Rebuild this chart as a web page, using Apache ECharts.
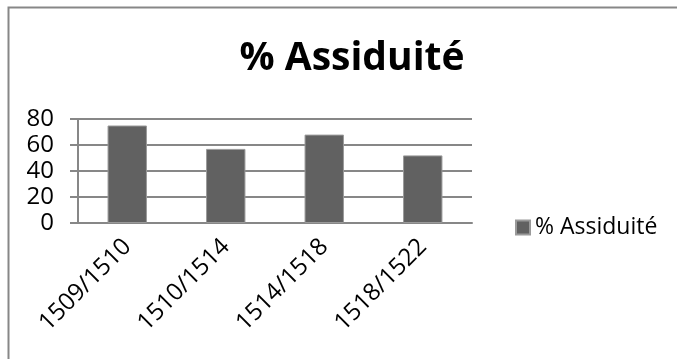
<!DOCTYPE html>
<html>
<head>
<meta charset="utf-8">
<script src="https://cdn.jsdelivr.net/npm/echarts@6/dist/echarts.min.js"></script>
<style>
  html, body { margin: 0; padding: 0; background: #fff; }
  #main { width: 677px; height: 359px; }
</style>
</head>
<body>
<div id="main"></div>
<script>
// données
var categories = ['1509/1510', '1510/1514', '1514/1518', '1518/1522'];
var assiduite = [75, 57, 68, 52];
var seriesName = '% Assiduité';
var yMin = 0, yMax = 80, yStep = 20;

var FONT = 'Open Sans';
var GREY = '#878787';

var myChart = echarts.init(document.getElementById('main'));

var option = {
  animation: false,
  backgroundColor: '#fff',
  title: {
    text: seriesName,
    left: 347,
    top: 34,
    textAlign: 'center',
    textStyle: { fontFamily: FONT, fontSize: 39, fontWeight: 'bold', color: '#000' }
  },
  legend: {
    data: [seriesName],
    left: 515,
    top: 216,
    padding: 0,
    itemWidth: 14,
    itemHeight: 14,
    icon: 'rect',
    textStyle: { fontFamily: FONT, fontSize: 23, color: '#000' }
  },
  // cadre du graphique (seulement bords gauche et haut visibles)
  graphic: [{
    type: 'rect',
    shape: { x: 8.5, y: 7.5, width: 800, height: 500 },
    style: { fill: 'none', stroke: GREY, lineWidth: 2 },
    silent: true
  }],
  grid: { left: 78, top: 119, width: 394, height: 104 },
  xAxis: {
    type: 'category',
    data: categories,
    axisLine: { lineStyle: { color: GREY, width: 2 } },
    axisTick: { length: 8, lineStyle: { color: GREY, width: 2 } },
    axisLabel: {
      rotate: 45,
      margin: 20,
      interval: 0,
      fontFamily: FONT,
      fontSize: 24,
      color: '#000'
    }
  },
  yAxis: {
    type: 'value',
    min: yMin,
    max: yMax,
    interval: yStep,
    axisLine: { show: true, lineStyle: { color: GREY, width: 2 } },
    axisTick: { show: true, length: 8, lineStyle: { color: GREY, width: 2 } },
    splitLine: { lineStyle: { color: GREY, width: 2 } },
    axisLabel: { margin: 24, fontFamily: FONT, fontSize: 24, color: '#000' }
  },
  series: [{
    name: seriesName,
    type: 'bar',
    data: assiduite,
    barWidth: '40%',
    itemStyle: { color: '#616161', borderColor: '#9a9a9a', borderWidth: 1 }
  }]
};

myChart.setOption(option);
</script>
</body>
</html>
